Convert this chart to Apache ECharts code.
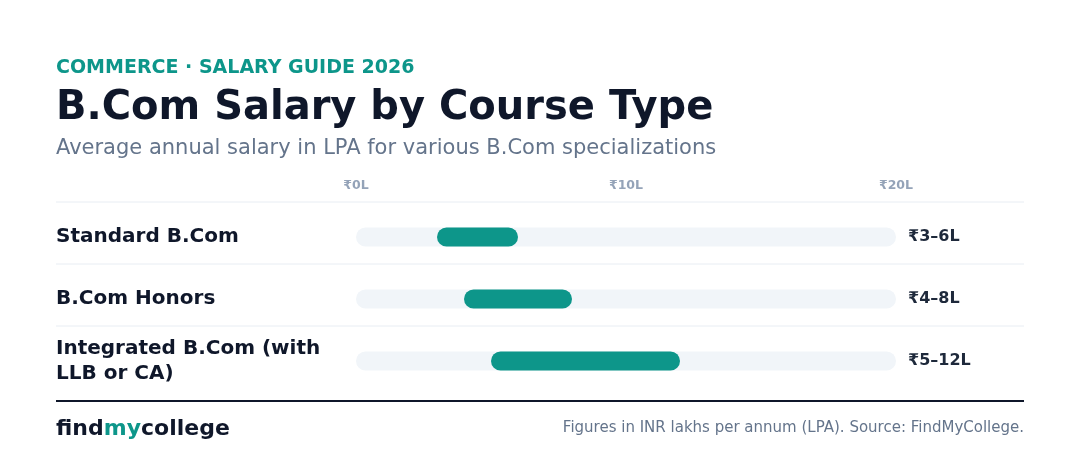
<!DOCTYPE html>
<html><head><meta charset="utf-8">
<script src="https://cdn.jsdelivr.net/npm/echarts@6/dist/echarts.min.js"></script>
<style>html,body{margin:0;padding:0;background:#fff}#main{width:1080px;height:474px}</style>
</head><body><div id="main"></div>
<script>
var courses = ['Standard B.Com', 'B.Com Honors', 'Integrated B.Com (with\nLLB or CA)'];
var lowVals = [3, 4, 5];
var highVals = [6, 8, 12];
var rangeLabels = ['₹3–6L', '₹4–8L', '₹5–12L'];
var axisMax = 20;

var font = 'DejaVu Sans';
var chart = echarts.init(document.getElementById('main'));
var spans = highVals.map(function(h, i) { return h - lowVals[i]; });

var option = {
  animation: false,
  textStyle: { fontFamily: font },
  grid: { left: 356, right: 184, top: 206, height: 186 },
  xAxis: {
    type: 'value', position: 'top', min: 0, max: axisMax, interval: 10,
    axisLine: { show: false }, axisTick: { show: false }, splitLine: { show: false },
    axisLabel: { formatter: '₹{value}L', color: '#94a3b8', fontWeight: 'bold', fontSize: 12.5, margin: 14 }
  },
  yAxis: {
    type: 'category', inverse: true, data: courses,
    axisLine: { show: false }, axisTick: { show: false },
    axisLabel: { align: 'left', margin: 300, color: '#0f172a', fontWeight: 'bold', fontSize: 20, lineHeight: 25 }
  },
  series: [
    {
      type: 'bar', barWidth: 19, barGap: '-100%', silent: true,
      data: courses.map(function() { return axisMax; }),
      itemStyle: { color: '#f1f5f9', borderRadius: 10 },
      label: {
        show: true, position: 'right', distance: 12, color: '#1e293b', fontWeight: 'bold', fontSize: 16,
        formatter: function(p) { return rangeLabels[p.dataIndex]; }
      },
      z: 1
    },
    {
      type: 'bar', stack: 'r', barWidth: 19, data: lowVals,
      itemStyle: { color: 'transparent' }, z: 2
    },
    {
      type: 'bar', stack: 'r', barWidth: 19, data: spans,
      itemStyle: { color: '#0d968a', borderRadius: 10 }, z: 3
    }
  ],
  graphic: [
    { type: 'text', left: 56, top: 59, style: { text: 'COMMERCE · SALARY GUIDE 2026', fill: '#0d968a', font: 'bold 19px "DejaVu Sans"' } },
    { type: 'text', left: 56, top: 89, style: { text: 'B.Com Salary by Course Type', fill: '#0f172a', font: 'bold 40px "DejaVu Sans"' } },
    { type: 'text', left: 56, top: 138, style: { text: 'Average annual salary in LPA for various B.Com specializations', fill: '#64748b', font: '21px "DejaVu Sans"' } },
    { type: 'line', shape: { x1: 56, y1: 202, x2: 1024, y2: 202 }, style: { stroke: '#e8edf3', lineWidth: 1 } },
    { type: 'line', shape: { x1: 56, y1: 264, x2: 1024, y2: 264 }, style: { stroke: '#e8edf3', lineWidth: 1 } },
    { type: 'line', shape: { x1: 56, y1: 326, x2: 1024, y2: 326 }, style: { stroke: '#e8edf3', lineWidth: 1 } },
    { type: 'line', shape: { x1: 56, y1: 401, x2: 1024, y2: 401 }, style: { stroke: '#0f172a', lineWidth: 2 } },
    { type: 'text', left: 56, top: 418, style: {
        text: '{a|find}{b|my}{a|college}',
        rich: { a: { fill: '#0f172a', font: 'bold 22px "DejaVu Sans"' }, b: { fill: '#0d968a', font: 'bold 22px "DejaVu Sans"' } } } },
    { type: 'text', right: 56, top: 421, style: { text: 'Figures in INR lakhs per annum (LPA). Source: FindMyCollege.', fill: '#64748b', font: '15px "DejaVu Sans"' } }
  ]
};
chart.setOption(option);
</script></body></html>
